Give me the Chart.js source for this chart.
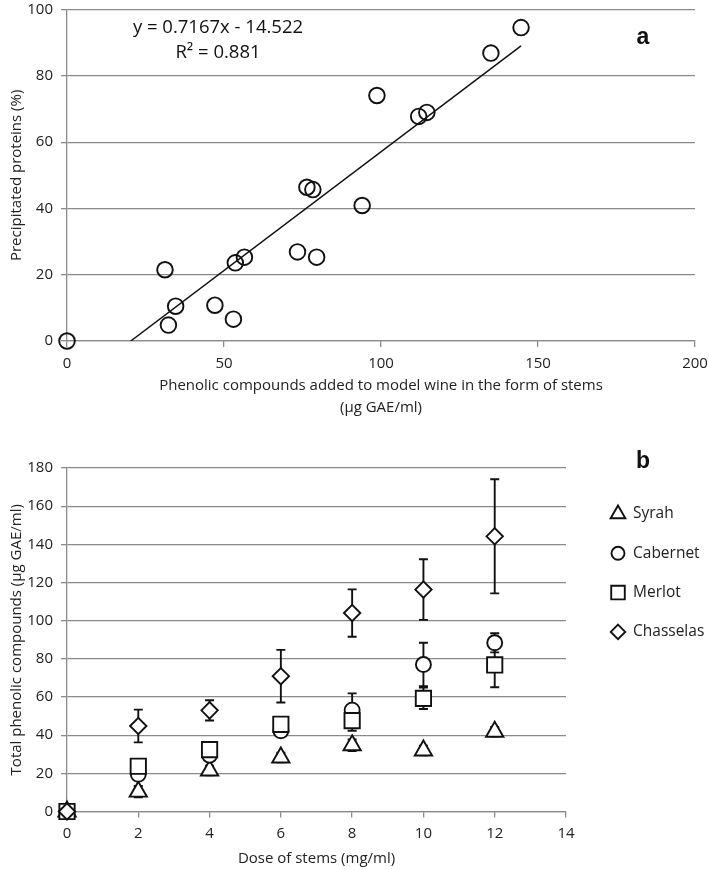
<!DOCTYPE html>
<html>
<head>
<meta charset="utf-8">
<script src="https://cdn.jsdelivr.net/npm/chart.js@4.4.1/dist/chart.umd.min.js"></script>
<style>
  html, body { margin: 0; padding: 0; background: #fff; }
  canvas { display: block; }
</style>
</head>
<body>
<canvas id="chart-a" width="709" height="425"></canvas>
<canvas id="chart-b" width="709" height="445"></canvas>
<script>
// panel a: precipitated proteins vs phenolics added as stems
const stemPhenolics = [0, 31.2, 32.3, 34.6, 47.1, 53.0, 53.6, 56.5, 73.4, 76.4, 78.3, 79.5, 94.0, 98.7, 112.0, 114.6, 135.0, 144.6];
const precipitated = [0, 21.5, 4.8, 10.5, 10.8, 6.6, 23.6, 25.3, 26.9, 46.4, 45.7, 25.3, 40.9, 74.1, 67.8, 69.0, 86.9, 94.6];
const trendX = [20.3, 144.6];
const trendY = [0, 89.1];
const equationLines = ["y = 0.7167x - 14.522", "R\u00b2 = 0.881"];
const xTitleA = ["Phenolic compounds added to model wine in the form of stems", "(\u00b5g GAE/ml)"];
const yTitleA = "Precipitated proteins (%)";

// panel b: total phenolics per dose of stems
const doses = [0, 2, 4, 6, 8, 10, 12];
const cultivars = ["Syrah", "Cabernet", "Merlot", "Chasselas"];
const syrah = [0, 10.4, 21.5, 28.3, 34.7, 32.0, 41.8];
const syrahErr = [0, 3, 2.5, 2.5, 3, 2.5, 2.5];
const cabernet = [0, 19.5, 29.5, 42.3, 53.1, 77.0, 88.4];
const cabernetErr = [0, 2, 2, 2, 8.8, 11.4, 5];
const merlot = [0, 23.7, 32.4, 45.7, 47.6, 59.3, 76.8];
const merlotErr = [0, 2, 2, 2, 5.3, 5.6, 11.7];
const chasselas = [0, 44.8, 53.0, 70.9, 104.0, 116.3, 144.2];
const chasselasErr = [0, 8.6, 5.3, 13.8, 12.4, 15.9, 29.9];
const xTitleB = "Dose of stems (mg/ml)";
const yTitleB = "Total phenolic compounds (\u00b5g GAE/ml)";

const INK = "#111";
const GRID = "#8a8a8a";
const FONT = "'Open Sans', sans-serif";

Chart.defaults.font.family = FONT;
Chart.defaults.color = "#222";

const toPoints = (xs, ys) => xs.map((x, i) => ({ x, y: ys[i] }));

// fixed axis size; drop the label overflow padding so layout.padding alone sets the plot edges
const fixSize = (prop, size) => (s) => {
  s[prop] = size;
  s.paddingTop = 0;
  s.paddingBottom = 0;
  s.paddingLeft = 0;
  s.paddingRight = 0;
};

function axis(min, max, step, title, opts) {
  return {
    type: "linear",
    min,
    max,
    ticks: { stepSize: step, padding: opts.tickPad, font: { size: 15 }, color: "#222" },
    grid: {
      drawOnChartArea: opts.gridLines,
      color: GRID,
      lineWidth: 1.3,
      tickLength: 6
    },
    border: { color: GRID, width: 1.3 },
    title: {
      display: true,
      text: title,
      color: "#222",
      font: { size: 15, lineHeight: opts.lineHeight },
      padding: opts.titlePad
    },
    afterFit: opts.fit
  };
}

const panelText = {
  id: "panelText",
  afterDraw(chart, args, opts) {
    const { ctx } = chart;
    ctx.save();
    ctx.fillStyle = "#111";
    ctx.textBaseline = "middle";
    (opts.items || []).forEach((t) => {
      ctx.font = t.font;
      ctx.textAlign = t.align || "center";
      ctx.fillText(t.text, t.x, t.y);
    });
    ctx.restore();
  }
};

const errorBars = {
  id: "errorBars",
  beforeDatasetsDraw(chart) {
    const { ctx, scales: { x, y } } = chart;
    ctx.save();
    ctx.strokeStyle = INK;
    ctx.lineWidth = 1.9;
    chart.data.datasets.forEach((ds, i) => {
      if (!ds.errors || !chart.isDatasetVisible(i)) {
        return;
      }
      ds.data.forEach((pt, j) => {
        const e = ds.errors[j];
        if (!e) {
          return;
        }
        const px = x.getPixelForValue(pt.x);
        const top = y.getPixelForValue(pt.y + e);
        const bot = y.getPixelForValue(pt.y - e);
        ctx.beginPath();
        ctx.moveTo(px, top);
        ctx.lineTo(px, bot);
        ctx.moveTo(px - 4.5, top);
        ctx.lineTo(px + 4.5, top);
        ctx.moveTo(px - 4.5, bot);
        ctx.lineTo(px + 4.5, bot);
        ctx.stroke();
      });
    });
    ctx.restore();
  }
};

const markerLegend = {
  id: "markerLegend",
  afterDraw(chart, args, opts) {
    const { ctx } = chart;
    ctx.save();
    chart.data.datasets.forEach((ds, i) => {
      const y = opts.top + i * opts.spacing;
      ctx.fillStyle = "#fff";
      ctx.strokeStyle = INK;
      ctx.lineWidth = 1.9;
      Chart.helpers.drawPoint(ctx, {
        pointStyle: ds.pointStyle,
        radius: opts.radii[ds.pointStyle],
        rotation: 0,
        borderWidth: 1.9
      }, opts.markerX, y);
      ctx.fillStyle = "#222";
      ctx.font = "15.5px " + FONT;
      ctx.textAlign = "left";
      ctx.textBaseline = "middle";
      ctx.fillText(ds.label, opts.textX, y);
    });
    ctx.restore();
  }
};

new Chart(document.getElementById("chart-a"), {
  type: "scatter",
  data: {
    datasets: [
      {
        label: "Stems",
        data: toPoints(stemPhenolics, precipitated),
        pointStyle: "circle",
        pointRadius: 7.8,
        pointBorderWidth: 1.9,
        pointBorderColor: INK,
        pointBackgroundColor: "rgba(0,0,0,0)",
        clip: false
      },
      {
        label: "Linear trend",
        data: toPoints(trendX, trendY),
        showLine: true,
        borderColor: INK,
        borderWidth: 1.5,
        pointRadius: 0,
        fill: false
      }
    ]
  },
  options: {
    responsive: false,
    animation: false,
    events: [],
    layout: { padding: { top: 8, right: 14, left: 0, bottom: 0 } },
    plugins: {
      legend: { display: false },
      tooltip: { enabled: false },
      panelText: {
        items: [
          { text: equationLines[0], x: 218, y: 28, font: "18.5px " + FONT },
          { text: equationLines[1], x: 218, y: 53, font: "18.5px " + FONT },
          { text: "a", x: 643, y: 38, font: "bold 23px 'Liberation Sans', Arial, sans-serif" }
        ]
      }
    },
    scales: {
      x: axis(0, 200, 50, xTitleA, {
        tickPad: 8,
        gridLines: false,
        lineHeight: 1.47,
        titlePad: { top: 0, bottom: 6 },
        fit: fixSize("height", 84)
      }),
      y: axis(0, 100, 20, yTitleA, {
        tickPad: 8,
        gridLines: true,
        lineHeight: 1.2,
        titlePad: { top: 8, bottom: 0 },
        fit: fixSize("width", 67)
      })
    }
  },
  plugins: [panelText]
});

const seriesB = [
  { values: syrah, errors: syrahErr, style: "triangle", radius: 10, order: 4 },
  { values: cabernet, errors: cabernetErr, style: "circle", radius: 7.5, order: 3 },
  { values: merlot, errors: merlotErr, style: "rect", radius: 10.8, order: 2 },
  { values: chasselas, errors: chasselasErr, style: "rectRot", radius: 8.2, order: 1 }
];

new Chart(document.getElementById("chart-b"), {
  type: "scatter",
  data: {
    datasets: seriesB.map((s, i) => ({
      label: cultivars[i],
      data: toPoints(doses, s.values),
      errors: s.errors,
      order: s.order,
      pointStyle: s.style,
      pointRadius: s.radius,
      pointBorderWidth: 1.9,
      pointBorderColor: INK,
      pointBackgroundColor: "#fff",
      clip: false
    }))
  },
  options: {
    responsive: false,
    animation: false,
    events: [],
    layout: { padding: { top: 43, right: 143, left: 0, bottom: 0 } },
    plugins: {
      legend: { display: false },
      tooltip: { enabled: false },
      panelText: {
        items: [
          { text: "b", x: 643, y: 37, font: "bold 23px 'Liberation Sans', Arial, sans-serif" }
        ]
      },
      markerLegend: {
        top: 89,
        spacing: 39.3,
        markerX: 618,
        textX: 633,
        radii: { triangle: 8.5, circle: 6.5, rect: 9.6, rectRot: 7.2 }
      }
    },
    scales: {
      x: axis(0, 14, 2, xTitleB, {
        tickPad: 7,
        gridLines: false,
        lineHeight: 1.2,
        titlePad: { top: 0, bottom: 2 },
        fit: fixSize("height", 58.5)
      }),
      y: axis(0, 180, 20, yTitleB, {
        tickPad: 8,
        gridLines: true,
        lineHeight: 1.2,
        titlePad: { top: 8, bottom: 0 },
        fit: fixSize("width", 67)
      })
    }
  },
  plugins: [panelText, errorBars, markerLegend]
});
</script>
</body>
</html>
